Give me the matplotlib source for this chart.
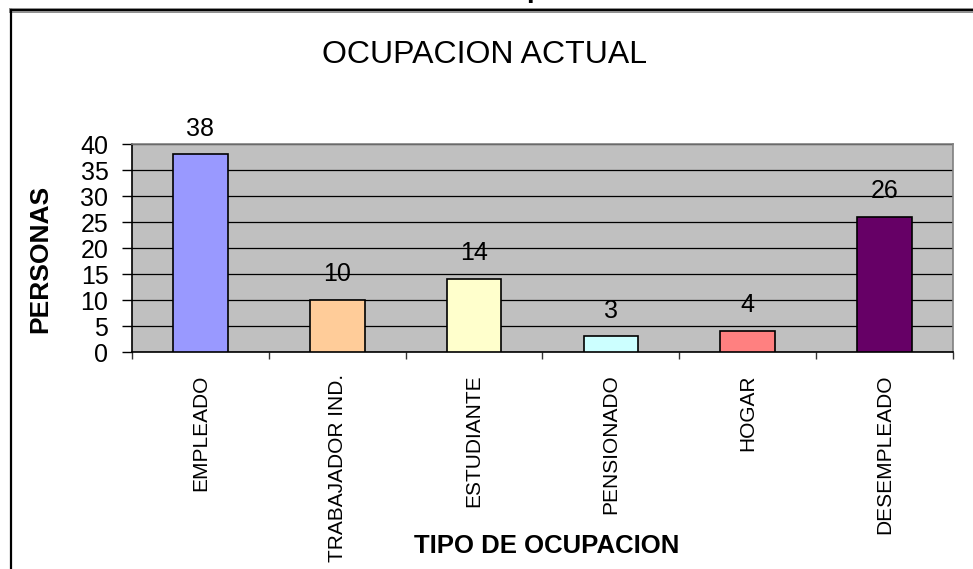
import matplotlib
matplotlib.use("Agg")
import matplotlib.pyplot as plt
from matplotlib.lines import Line2D
import numpy as np

categories = ["EMPLEADO", "TRABAJADOR IND.", "ESTUDIANTE", "PENSIONADO", "HOGAR", "DESEMPLEADO"]
values = [38, 10, 14, 3, 4, 26]
colors = ["#9999FF", "#FFCC99", "#FFFFCC", "#CCFFFF", "#FF8080", "#660066"]
yticks = [0, 5, 10, 15, 20, 25, 30, 35, 40]
title = "OCUPACION ACTUAL"
ylabel = "PERSONAS"
xlabel = "TIPO DE OCUPACION"

plt.rcParams['font.family'] = ['Liberation Sans', 'DejaVu Sans']

W, H = 973, 569
fig = plt.figure(figsize=(W / 100, H / 100), dpi=100)
fig.patch.set_facecolor("white")

ax = fig.add_axes([132 / W, 1 - 352 / H, (953 - 132) / W, (352 - 144) / H])
ax.set_facecolor("#C0C0C0")

x = np.arange(len(categories))
bars = ax.bar(x, values, width=0.4, color=colors, edgecolor="black", linewidth=1.2, zorder=3)
ax.bar_label(bars, labels=[str(v) for v in values], padding=10, fontsize=18, zorder=4)

ax.set_xlim(-0.5, len(categories) - 0.5)
ax.set_ylim(0, 40)
ax.set_yticks(yticks)
ax.yaxis.grid(True, color="black", linewidth=0.9, zorder=1)
ax.set_axisbelow(True)

ax.set_xticks(x)
ax.set_xticklabels(categories, rotation=90, fontsize=15)
ax.set_xticks(np.arange(len(categories) + 1) - 0.5, minor=True)
ax.tick_params(axis="x", which="major", length=0, pad=16)
ax.tick_params(axis="x", which="minor", length=5, width=1, color="#333333", direction="out")
ax.tick_params(axis="y", length=7, width=1, pad=10, labelsize=18, direction="out")

for s in ["left", "bottom"]:
    ax.spines[s].set_color("black")
    ax.spines[s].set_linewidth(1.2)
for s in ["top", "right"]:
    ax.spines[s].set_color("#808080")
    ax.spines[s].set_linewidth(1.2)

ax.set_ylabel(ylabel, fontsize=19, fontweight="bold")
ax.yaxis.set_label_coords(-0.097, 0.447)
ax.set_xlabel(xlabel, fontsize=18.5, fontweight="bold", va="center")
ax.xaxis.set_label_coords(0.5055, -0.933)

fig.text(485 / W, 1 - 55 / H, title, fontsize=23, ha="center", va="center")

# cut-off text fragment at the very top of the picture (as in the reference)
fig.text(526 / W, 1 + 3 / H, "p", fontsize=20, fontweight="bold", ha="left", va="baseline")

# frame around the chart area
fig.add_artist(Line2D([11 / W, 1], [1 - 10 / H, 1 - 10 / H], color="#909090", linewidth=3.6))
fig.add_artist(Line2D([11 / W, 1], [1 - 10 / H, 1 - 10 / H], color="black", linewidth=1.4))
fig.add_artist(Line2D([11 / W, 11 / W], [0, 1 - 10 / H], color="black", linewidth=1.6))

fig.savefig("out.png", dpi=100)
